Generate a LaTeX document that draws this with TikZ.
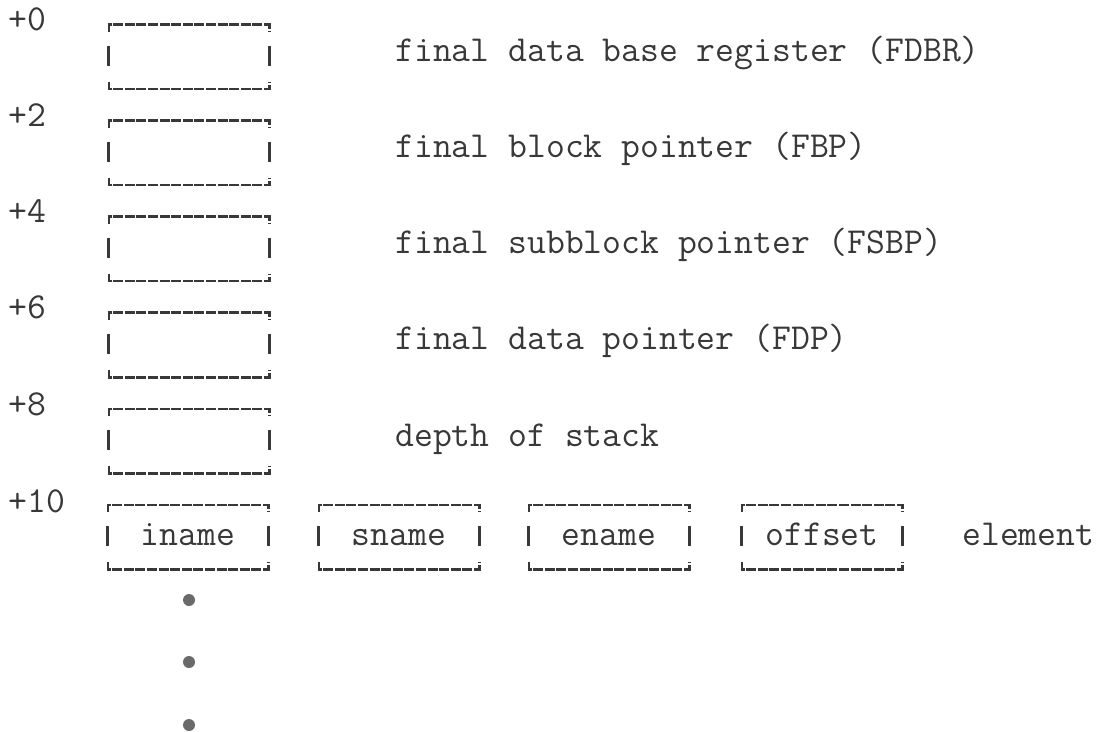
\documentclass[tikz,border=0pt]{standalone}
\usepackage{tikz}
\usetikzlibrary{calc}
\definecolor{ink}{gray}{0.22}
\tikzset{
	frame/.style={draw=ink, line width=1.1pt, dash pattern=on 5pt off 0.8pt},
	sidebar/.style={draw=ink, line width=1.3pt},
	cell/.style={minimum width=80pt, minimum height=32pt, inner sep=0pt, text height=8pt, text depth=0pt},
	note/.style={anchor=base west, inner sep=0pt},
	every node/.style={font=\fontsize{18.3}{22}\selectfont\ttfamily, text=ink}
}
\def\typebox#1{%
	\draw[frame] ([yshift=-3.5pt]#1.north west) -- (#1.north west) -- (#1.north east) -- ([yshift=-3.5pt]#1.north east);
	\draw[frame] ([yshift=3.5pt]#1.south west) -- (#1.south west) -- (#1.south east) -- ([yshift=3.5pt]#1.south east);
	\draw[sidebar] ([yshift=5.5pt]#1.west) -- ([yshift=-4.5pt]#1.west);
	\draw[sidebar] ([yshift=5.5pt]#1.east) -- ([yshift=-4.5pt]#1.east);}

\begin{document}
\begin{tikzpicture}[x=0.5pt, y=-0.5pt]
		%%%%% START %%%%%
		\useasboundingbox (0, 0) rectangle (1107, 732);
		
		\node[note] (off0) at (8, 31) {+0};
		\node[cell] (fdbr) at (189, 57) {};
		\typebox{fdbr}
		\node[note] (fdbrtext) at (395, 62) {final data base register (FDBR)};
		
		\node[note] (off2) at (8, 127) {+2};
		\node[cell] (fbp) at (189, 153) {};
		\typebox{fbp}
		\node[note] (fbptext) at (395, 158) {final block pointer (FBP)};
		
		\node[note] (off4) at (8, 223) {+4};
		\node[cell] (fsbp) at (189, 249) {};
		\typebox{fsbp}
		\node[note] (fsbptext) at (395, 254) {final subblock pointer (FSBP)};
		
		\node[note] (off6) at (8, 319) {+6};
		\node[cell] (fdp) at (189, 345) {};
		\typebox{fdp}
		\node[note] (fdptext) at (395, 350) {final data pointer (FDP)};
		
		\node[note] (off8) at (8, 415) {+8};
		\node[cell] (depth) at (189, 441) {};
		\typebox{depth}
		\node[note] (depthtext) at (395, 446) {depth of stack};
		
		\node[note] (off10) at (8, 512) {+10};
		\node[cell] (iname) at (188, 537) {iname};
		\typebox{iname}
		\node[cell] (sname) at (399, 537) {sname};
		\typebox{sname}
		\node[cell] (ename) at (609, 537) {ename};
		\typebox{ename}
		\node[cell] (offset) at (822, 537) {offset};
		\typebox{offset}
		\node[note] (element) at (962, 545) {element};
		
		\fill[ink!75] (189, 600) circle (3pt);
		\fill[ink!75] (189, 662) circle (3pt);
		\fill[ink!75] (189, 725) circle (3pt);
		%%%%% END %%%%%
	\end{tikzpicture}
\end{document}
